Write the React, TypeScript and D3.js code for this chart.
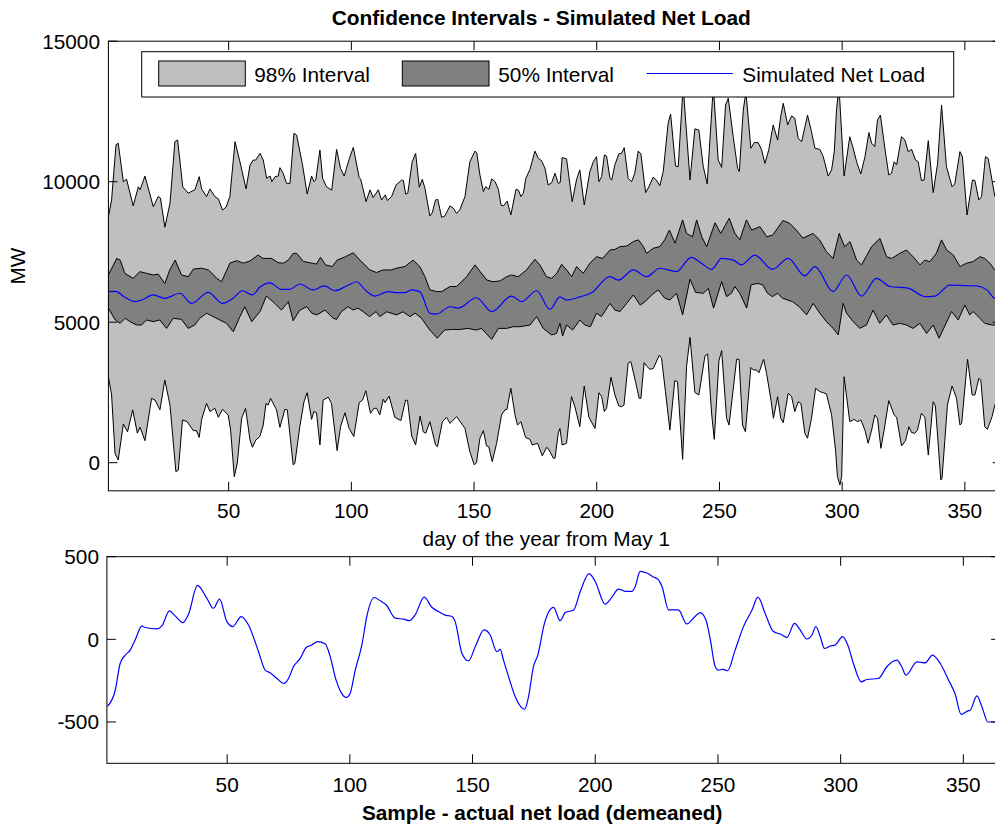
import React from "react";
import * as d3 from "d3";

type P = [number, number];

// ---- top panel series: [day, MW] ----
const upper98: P[] = [
  [1, 8755], [2.3, 9350], [4.1, 11310], [5, 11370], [7.1, 10000], [8.4, 10090], [11.1, 9140], [13.2, 9820], [13.9, 9710],
  [15.9, 10200], [19.3, 9110], [21.3, 9470], [22.2, 9420], [24, 8380], [26.1, 9230], [28.1, 11425], [29.2, 11485],
  [31.3, 9820], [33.5, 9590], [36.3, 9720], [38, 10180], [39, 9740], [41, 9470], [42.4, 9740], [44.4, 9470], [45.8, 9390],
  [47.5, 8990], [49, 9100], [50.5, 9470], [52.6, 11425], [54.6, 10710], [57.1, 9740], [58.7, 10590], [60, 10770],
  [61, 10770], [62.8, 11010], [64.1, 10770], [65.5, 10120], [66.9, 10200], [67.6, 10000], [68.9, 10180], [70.2, 10200],
  [70.9, 10500], [72.2, 10300], [73.6, 9940], [75, 9940], [76.6, 11720], [77.7, 11660], [80.1, 10600], [82, 9560],
  [83.8, 10200], [84.8, 10000], [85.5, 10060], [87.2, 11130], [88.3, 10120], [89.9, 9820], [92, 9700], [94, 11150],
  [95.6, 10470], [97.1, 10200], [99.2, 10830], [100.8, 11220], [103.2, 10150], [103.8, 10090], [106, 9290], [107.6, 9710],
  [108.9, 9435], [111, 9710], [112.3, 9350], [113.8, 9530], [114.7, 9330], [116.4, 9470], [118.2, 9880], [120.5, 10060],
  [121.2, 10040], [122.1, 9560], [123, 9590], [124.8, 10710], [126.2, 11010], [127.7, 9800], [128.9, 10085], [130, 9765],
  [132, 8780], [133, 8900], [134.3, 9350], [135.2, 9370], [136.8, 8730], [138.1, 8780], [140.2, 9140], [141.5, 9060],
  [142.9, 8875], [144.2, 9000], [146.3, 9470], [148.3, 10710], [150.4, 11090], [151.1, 11030], [152.4, 10240], [153.8, 9650],
  [154.7, 9820], [156.1, 9730], [157.2, 10100], [158.6, 10000], [159.9, 9730], [161, 9170], [162, 9140], [163.5, 9310],
  [165, 8815], [167.1, 9730], [168.1, 9700], [169.1, 9470], [170.1, 9590], [171.1, 10120], [172.8, 10440], [174.8, 11090],
  [176.2, 10830], [177.5, 10750], [178.9, 10480], [180.2, 9880], [181.6, 9960], [183, 10300], [184.3, 9940], [185.1, 9970],
  [185.9, 10860], [187.7, 10810], [190, 9290], [191.8, 10085], [193.1, 10420], [194.9, 9170], [197.2, 10360], [198.6, 10710],
  [199.9, 10890], [200.9, 10000], [202, 10180], [203.1, 10950], [204, 10910], [205.4, 10120], [206.1, 10060], [207.4, 10600],
  [209, 10990], [210.1, 11010], [211.2, 11210], [212.8, 10120], [214.2, 10000], [215.5, 10300], [216.9, 11090], [218, 10990],
  [219.9, 9610], [221.3, 9830], [223, 10160], [224.3, 10060], [225.7, 9860], [227.1, 10360], [229.1, 12080], [230.1, 12410],
  [232.1, 10560], [233.2, 10535], [235.2, 13400], [238, 10060], [240, 11880], [241.6, 11840], [243.4, 10540], [245, 9920],
  [247.5, 13400], [249.5, 10770], [250.9, 10510], [252.5, 12730], [253.6, 12970], [255.6, 11600], [257.4, 10480],
  [258.1, 10360], [259.7, 12550], [260.8, 13200], [262.8, 11190], [264.2, 11390], [265.8, 11390], [267.2, 11130],
  [268.5, 10650], [270.1, 11130], [271.9, 12020], [273.7, 11480], [275, 12340], [276, 12790], [277.8, 12020], [279.4, 12340],
  [280.7, 12260], [282.1, 11540], [283.5, 11425], [285.9, 12370], [287.5, 11780], [288.9, 11190], [290.9, 11150],
  [292.3, 10890], [294.3, 10200], [295.7, 10420], [296.8, 11070], [297.7, 12550], [298.7, 13400], [300.8, 10200],
  [303.1, 11600], [304.5, 11190], [305.9, 10710], [307.6, 10275], [309.3, 10890], [310.9, 11750], [312, 11370],
  [313.3, 11250], [314.4, 12200], [315.6, 12370], [317.4, 11190], [319, 10240], [320.1, 10300], [321.2, 10710],
  [322.2, 10600], [324.2, 11600], [325.6, 11480], [326.9, 11070], [328.3, 11150], [329.9, 10770], [331, 10710],
  [332.3, 10040], [333.4, 10060], [335.1, 11460], [337.1, 9610], [338.9, 10650], [340.5, 12730], [342.5, 10540],
  [344.8, 9820], [345.9, 9920], [348, 11070], [349, 10890], [350.9, 8815], [353.1, 10060], [354.1, 10040], [355.7, 9350],
  [356.8, 9470], [358.4, 10890], [359.5, 10830], [362.2, 9490], [365, 9100],
];

const lower98: P[] = [
  [1, 3060], [2.3, 2410], [3.7, 330], [5, 100], [7.1, 1380], [8.8, 1100], [10.9, 1880], [12.8, 1050], [13.9, 1260],
  [15.9, 785], [18.6, 2290], [20, 2230], [22, 1880], [24, 2940], [26.1, 2050], [28.5, -320], [29.5, -260], [31.2, 1520],
  [33.1, 1460], [35.6, 1140], [36.9, 1140], [38, 900], [39, 1540], [41, 2110], [42.4, 1820], [44.4, 1935], [45.8, 1615],
  [47.5, 1900], [49.8, 1700], [50.8, 1160], [52.3, -500], [53.5, -20], [55.3, 1580], [56.9, 1935], [58.7, 810], [59.7, 550],
  [61.1, 810], [62.7, 930], [64.1, 1340], [65.2, 2110], [66.1, 2050], [67.1, 2290], [69.5, 1880], [70.9, 1260], [72.9, 1900],
  [73.9, 1880], [76.3, -80], [77, -20], [79, 1280], [80.7, 2170], [82, 2490], [83.8, 1540], [84.7, 1820], [85.8, 1780],
  [87.2, 630], [88.5, 2230], [90.6, 2330], [91.9, 2110], [94.2, 430], [95.6, 1280], [97.4, 1780], [99.1, 1220], [101, 930],
  [103.2, 2140], [104.6, 2230], [105.9, 2560], [107.8, 1760], [109.2, 1935], [110.3, 1935], [111.6, 1700], [113, 2260],
  [113.7, 2140], [115.4, 2370], [117.7, 1615], [120.2, 1500], [122.1, 2230], [122.9, 2210], [124.6, 950], [126.2, 630],
  [128, 1660], [129.3, 1100], [130.3, 1050], [132, 1460], [134.3, 630], [135.1, 570], [137.1, 1460], [138.8, 1615],
  [140.2, 1400], [142.9, 1640], [146.3, 1220], [148.3, 390], [150.1, -80], [151, 0], [152.4, 870], [153.8, 1140],
  [155.1, 595], [156, 570], [157.4, 40], [159.2, 690], [161.2, 1700], [162.6, 1880], [163.4, 1900], [165, 2650],
  [166.7, 1700], [167.7, 1340], [169.1, 1460], [171, 900], [172.8, 830], [173.7, 630], [175.9, 690], [177.8, 240],
  [179.6, 550], [180.6, 450], [182.3, 160], [183, 160], [184.3, 1050], [185, 1220], [185.9, 630], [187.7, 690],
  [189.7, 2350], [191.1, 1990], [193.1, 1280], [194.9, 2730], [196.8, 1615], [199.3, 1220], [200.9, 2490], [202, 2350],
  [203.1, 1820], [204, 1935], [205.8, 3040], [207.4, 2410], [209, 2020], [210.1, 1990], [211.1, 2050], [212.8, 3540],
  [213.9, 3600], [215.8, 2880], [217.3, 2290], [218, 2290], [219.3, 3560], [220.3, 3440], [221.7, 3320], [223.1, 3360],
  [225.5, 3830], [226.4, 3715], [228, 2530], [229.8, 1160], [231.8, 2920], [232.9, 2880], [235, 120], [236.6, 3420],
  [238, 4460], [240, 2500], [241.6, 2410], [244.1, 3800], [245.2, 3870], [246.8, 1760], [247.9, 830], [249.8, 3630],
  [250.9, 3990], [252.9, 1580], [253.9, 1340], [255.6, 2610], [257, 3680], [258, 3680], [259.4, 1340], [260.6, 1100],
  [262.8, 3390], [263.8, 3300], [265.1, 3300], [266.1, 3200], [268, 3680], [269.2, 3180], [271, 2230], [272, 1580],
  [273.7, 2350], [275, 1580], [276, 1425], [278, 2470], [279.4, 2350], [280.7, 1820], [282.1, 2170], [283.2, 2110],
  [284.8, 1050], [285.9, 870], [287.5, 1580], [289.2, 2650], [290.9, 2530], [292.3, 2490], [293.6, 2445], [295.7, 1700],
  [297.3, 450], [298.1, -500], [299.1, -790], [299.8, -500], [300.8, 3060], [303.1, 1460], [304.9, 1540], [306.3, 1460],
  [307.6, 1520], [309.3, 1160], [310.6, 690], [312, 1160], [313.3, 1700], [314.4, 1580], [315.8, 510], [317.1, 1160],
  [319, 2210], [321.2, 1700], [322.2, 1615], [324.2, 595], [325.8, 780], [327.2, 1280], [328.3, 1070], [329.6, 1046],
  [330.7, 1160], [332.3, 1760], [333.7, 1615], [335.1, 270], [337.1, 2170], [338, 2020], [340.2, -615], [340.7, -560],
  [342.9, 2050], [344.8, 2730], [346.6, 2290], [348, 1340], [348.7, 1400], [351.1, 3680], [353, 2410], [354.1, 2410],
  [355.7, 3000], [356.5, 2940], [358.1, 1280], [359.2, 1190], [361.1, 1640], [362.2, 2050], [365, 2500],
];

const upper50: P[] = [
  [1, 6680], [4.4, 7270], [5.8, 7210], [7.7, 6740], [11.1, 6560], [13.8, 6800], [16.5, 6740], [19.3, 6680], [21.3, 6710],
  [24, 6380], [26, 6860], [28.2, 7210], [30.8, 6680], [33.6, 6620], [35.6, 6890], [39, 6920], [41.8, 6860], [45.2, 6560],
  [47.1, 6440], [50.5, 7100], [53.3, 7190], [56, 7100], [58.7, 7180], [62, 7390], [64, 7270], [67.5, 7270], [70.2, 7120],
  [72.3, 7100], [74.3, 7210], [76.3, 7450], [77.7, 7450], [80.5, 7160], [84, 7100], [85.8, 7070], [87.4, 7310], [89.5, 7040],
  [92.2, 6980], [94.2, 7210], [97.6, 7330], [100.8, 7470], [103.5, 7210], [107.5, 6860], [110.2, 6770], [113, 6860],
  [116.3, 6860], [118.3, 6920], [121.8, 6980], [125.2, 7210], [127.9, 6980], [130, 6620], [132, 6150], [134.8, 6090],
  [136.8, 6090], [140.2, 6270], [142.9, 6270], [147, 6620], [150.4, 7040], [152.5, 6800], [155.2, 6500], [157.8, 6440],
  [160.6, 6470], [163.3, 6620], [165.3, 6680], [168, 6620], [171.4, 6860], [174.8, 7240], [176.8, 7040], [179.5, 6620],
  [181.6, 6560], [183.7, 6740], [185.7, 7060], [187.7, 6860], [189.8, 6620], [191.8, 6980], [194.5, 6740], [197.2, 7100],
  [200, 7330], [202.4, 7270], [205.4, 7570], [207.4, 7590], [209.5, 7690], [212.2, 7710], [214.9, 7870], [217, 7930],
  [219, 7690], [220.3, 7450], [223, 7630], [225.7, 7690], [227.7, 7930], [229.6, 8280], [231.9, 7810], [235, 8640],
  [236.6, 8160], [239, 8040], [240.7, 8640], [242.8, 8040], [244.8, 7690], [248.2, 8540], [250.5, 8160], [254, 8700],
  [256.3, 8160], [258.3, 7930], [261, 8640], [263.1, 8280], [266.5, 8400], [269.3, 8040], [271.7, 8100], [275.9, 8620],
  [278.6, 8520], [281.3, 8280], [284, 7990], [288.1, 8160], [290.8, 7930], [293.6, 7510], [296.3, 7270], [298.8, 8160],
  [301, 7690], [303.2, 7870], [305.9, 7210], [307.9, 7040], [312, 7690], [315.4, 7980], [318.1, 7330], [320.2, 7270],
  [323.5, 7450], [326.2, 7570], [328.9, 7330], [331.7, 7040], [333.7, 7210], [335.7, 7150], [338.4, 7450], [340.5, 7930],
  [342.6, 7570], [345.3, 7390], [348, 6980], [350.7, 7100], [353.4, 7160], [356.1, 7330], [358.1, 7270], [360.2, 7100],
  [362.2, 6860], [365, 6700],
];

const lower50: P[] = [
  [1, 5500], [3.8, 5080], [5.8, 4960], [7.8, 5140], [9.8, 5020], [12.5, 4900], [14.5, 4900], [16.5, 5080], [19.2, 5020],
  [21.9, 5080], [24.7, 4780], [27.4, 5140], [30.8, 5100], [33.5, 4780], [36.2, 4900], [38.2, 5140], [41, 5320], [43.7, 5200],
  [46.4, 5080], [49.1, 4960], [51.9, 4660], [54.6, 5200], [56.6, 5550], [59.4, 5020], [62.8, 5380], [65.4, 5930],
  [68.8, 5670], [71.5, 5430], [74.3, 5730], [76.3, 5050], [79, 5430], [81.8, 5550], [83.9, 5320], [85.9, 5260], [89.3, 5430],
  [92.6, 5140], [94, 5100], [96, 5380], [98.7, 5550], [100.7, 5430], [102.7, 5500], [104.7, 5380], [107.4, 5200],
  [110.1, 5380], [111.6, 5200], [114.4, 5370], [118.5, 5260], [121, 5370], [123.9, 5200], [126, 5320], [128.6, 5140],
  [132, 4720], [135, 4430], [138, 4720], [140.8, 4740], [144.2, 4740], [147.5, 4780], [150.9, 4720], [153, 4780],
  [157.2, 4390], [159.9, 4780], [163.3, 4780], [166, 4840], [168.7, 4840], [172.8, 4900], [175.5, 5200], [178.2, 4780],
  [181.6, 4545], [183.6, 4600], [185, 4960], [186.1, 4510], [187.7, 4900], [190.2, 4720], [193.1, 5080], [195.1, 4900],
  [197.4, 4840], [199.9, 5320], [201.9, 5200], [205.4, 5670], [207.4, 5430], [209.5, 5380], [212.2, 5670], [214.9, 5970],
  [217.7, 5610], [219.7, 5730], [222.4, 5970], [225, 6150], [227.8, 5850], [229.8, 5790], [232.5, 6030], [235, 5260],
  [238, 6530], [240.3, 6060], [243.4, 6030], [245.5, 6200], [247.6, 5500], [250.9, 6440], [252.9, 5910], [254.9, 6030],
  [256.3, 6270], [258.3, 6030], [261.1, 5500], [262.9, 6330], [265.6, 6380], [267.6, 6330], [269.6, 6030], [271.6, 5910],
  [273.7, 6030], [275.7, 5850], [279.8, 5730], [282.5, 5550], [285.5, 5260], [288.2, 5670], [290.9, 5320], [293.6, 5020],
  [296.3, 4780], [298.4, 4545], [300.4, 5670], [301.8, 5320], [304.5, 5020], [307.2, 4780], [309.9, 4900], [312.6, 5430],
  [315.3, 4960], [318, 5260], [320.7, 4900], [323.5, 4960], [326.2, 4900], [328.9, 4780], [331.7, 4960], [334.4, 4600],
  [337.1, 4900], [339.5, 4430], [344.6, 5380], [347.3, 5080], [350, 5610], [352, 5260], [353.4, 5380], [356.1, 5140],
  [358.1, 4960], [360.9, 4900], [362.2, 4900], [365, 4900],
];

const simulated: P[] = [
  [1, 6090], [4, 6100], [7.5, 5900], [11.8, 5730], [14.5, 5790], [19.3, 5970], [24, 5850], [30.1, 6030], [34.9, 5670],
  [41.7, 6060], [47.5, 5670], [51.8, 5850], [55.6, 6120], [59.6, 5970], [62.8, 6250], [66.8, 6400], [71.5, 6170],
  [74.9, 6170], [79, 6360], [84.4, 6150], [88.9, 6290], [93.3, 6120], [98.1, 6290], [102.2, 6440], [105.6, 6150],
  [109.6, 5930], [115, 6090], [118.5, 6050], [121.8, 6050], [124.5, 6150], [127.9, 6090], [132, 5320], [134.7, 5290],
  [140.2, 5550], [143.5, 5500], [151, 5870], [157.2, 5380], [165.3, 5930], [169.4, 5730], [175.5, 6120], [180.9, 5460],
  [185, 5900], [187.7, 5790], [193.1, 5900], [197.9, 6050], [205.4, 6620], [208.8, 6500], [214.9, 6860], [220.3, 6620],
  [225.7, 6920], [232.5, 6800], [238.5, 7310], [242.8, 7090], [246.8, 6880], [250.9, 7270], [255.7, 7210], [259, 7040],
  [264.4, 7390], [271.6, 6880], [278, 7270], [284.8, 6650], [288.9, 6980], [296.3, 6090], [301.8, 6680], [307.9, 5930],
  [314, 6560], [319.5, 6270], [326.9, 6210], [333.7, 5910], [337.8, 5930], [343.9, 6320], [350.7, 6300], [354.8, 6290],
  [358.9, 6150], [362.2, 5850], [365, 5800],
];

// ---- bottom panel: sample - actual net load (demeaned) ----
const demeaned: P[] = [
  [1.25, -405], [4.4, -308], [6.4, -146], [8.5, -95], [10.5, -65], [12.5, -4], [15.3, 81], [16.3, 73], [21.4, 63],
  [23.4, 81], [26.5, 172], [28.8, 142], [32, 101], [34.3, 154], [37.9, 326], [41.7, 249], [44.4, 188], [46.9, 243],
  [49.9, 107], [52.3, 77], [55.7, 138], [58.7, 87], [62.8, -75], [65.5, -186], [67.5, -202], [70.3, -237], [73.2, -267],
  [75, -237], [77, -166], [79.8, -115], [82.2, -49], [84.5, -34], [86.8, -14], [90, -28], [92, -105], [94.4, -247],
  [96.3, -318], [98.5, -352], [100.1, -328], [102.2, -186], [104.9, -34], [106.9, 138], [109.9, 253], [112.4, 233],
  [114.8, 209], [118.5, 128], [121.9, 122], [124.3, 113], [126.6, 148], [130.3, 255], [133.4, 194], [136.1, 168],
  [138.6, 148], [141.6, 138], [142.9, 107], [145.7, -85], [148.4, -130], [151.1, -45], [154.7, 57], [157.2, 26],
  [159.9, -75], [161.3, -61], [162.6, -126], [164.7, -227], [167.4, -348], [171.2, -423], [172.8, -348], [174.8, -166],
  [176.6, -95], [179.3, 97], [183, 194], [185.7, 113], [187.8, 162], [191.2, 178], [193.9, 290], [197.5, 397], [200, 350],
  [204, 213], [206.5, 249], [209.5, 304], [212.5, 290], [214.9, 290], [216.3, 320], [218.3, 411], [221, 401], [223.7, 377],
  [225.5, 364], [227.2, 320], [229.9, 178], [233.9, 178], [237.3, 93], [240, 128], [242.8, 162], [245.1, 117], [246.8, 6],
  [248.9, -166], [250.2, -186], [252, -182], [253.9, -190], [257, -65], [260.4, 77], [263.8, 174], [266.3, 255],
  [269.3, 154], [272.6, 47], [275.4, 32], [278.1, 12], [281.2, 97], [283.5, 57], [286.2, 2], [288.3, 26], [289.9, 77],
  [291.7, 16], [293.4, -55], [295.7, -41], [297.8, -34], [300.8, 16], [302.9, -34], [305.2, -146], [308.4, -257],
  [310.7, -243], [315.4, -237], [318.8, -166], [322.9, -126], [324.9, -166], [326.6, -217], [331.1, -136], [334.5, -142],
  [337.4, -95], [340.6, -146], [344, -247], [346.7, -332], [349.1, -454], [351.9, -433], [352.8, -429], [355.5, -342],
  [357.6, -409], [360, -500], [365, -500],
];

const xTicks = [50, 100, 150, 200, 250, 300, 350];
const yTicksTop = [0, 5000, 10000, 15000];
const yTicksBottom = [-500, 0, 500];
const legendLabels = ["98% Interval", "50% Interval", "Simulated Net Load"];

const FONT = "'Liberation Sans', Arial, Helvetica, sans-serif";
const FS = 20.8;

export default function App() {
  const W = 995, H = 826;
  const xTop = d3.scaleLinear().domain([1, 365]).range([108.4, 108.4 + 364 * 2.454]);
  const yTop = d3.scaleLinear().domain([-1000, 15000]).range([490.8, 41.2]);
  const xBot = d3.scaleLinear().domain([1, 365]).range([106.9, 106.9 + 364 * 2.454]);
  const yBot = d3.scaleLinear().domain([-750, 500]).range([763.3, 556.7]);

  const lineTop = d3.line<P>().x((d) => xTop(d[0])).y((d) => yTop(d[1]));
  const smoothTop = d3.line<P>().x((d) => xTop(d[0])).y((d) => yTop(d[1])).curve(d3.curveMonotoneX);
  const lineBot = d3.line<P>().x((d) => xBot(d[0])).y((d) => yBot(d[1])).curve(d3.curveMonotoneX);

  const band98 = (lineTop(upper98.concat(lower98.slice().reverse())) || "") + "Z";
  const band50 = (lineTop(upper50.concat(lower50.slice().reverse())) || "") + "Z";

  const tl = 9;
  const topL = xTop.range()[0], topR = xTop.range()[1];
  const topT = yTop.range()[1], topB = yTop.range()[0];
  const botL = xBot.range()[0], botR = xBot.range()[1];
  const botT = yBot.range()[1], botB = yBot.range()[0];

  return (
    <svg width={W} height={H} style={{ position: "absolute", left: 0, top: 0, display: "block", background: "#fff" }}
      fontFamily={FONT}>
      <defs>
        <clipPath id="clipTop"><rect x={topL} y={topT} width={topR - topL} height={topB - topT} /></clipPath>
        <clipPath id="clipBot"><rect x={botL} y={botT} width={botR - botL} height={botB - botT} /></clipPath>
      </defs>
      <rect x={0} y={0} width={W} height={H} fill="#fff" />

      {/* title */}
      <text x={541.3} y={25} textAnchor="middle" fontSize={20.9} fontWeight="bold">Confidence Intervals - Simulated Net Load</text>

      {/* top panel */}
      <g clipPath="url(#clipTop)">
        <path d={band98} fill="#bfbfbf" stroke="#000" strokeWidth={1} strokeLinejoin="round" />
        <path d={band50} fill="#808080" stroke="#000" strokeWidth={1} strokeLinejoin="round" />
        <path d={smoothTop(simulated) || ""} fill="none" stroke="#0000ff" strokeWidth={1.2} />
      </g>
      <rect x={topL} y={topT} width={topR - topL} height={topB - topT} fill="none" stroke="#000" strokeWidth={1} />
      {xTicks.map((t) => (
        <g key={"xt" + t}>
          <line x1={xTop(t)} x2={xTop(t)} y1={topB} y2={topB - tl} stroke="#000" />
          <line x1={xTop(t)} x2={xTop(t)} y1={topT} y2={topT + tl} stroke="#000" />
          <text x={xTop(t)} y={518.3} textAnchor="middle" fontSize={FS}>{t}</text>
        </g>
      ))}
      {yTicksTop.map((t) => (
        <g key={"yt" + t}>
          <line x1={topL} x2={topL + tl} y1={yTop(t)} y2={yTop(t)} stroke="#000" />
          <line x1={topR} x2={topR - tl} y1={yTop(t)} y2={yTop(t)} stroke="#000" />
          <text x={100} y={yTop(t) + 7.5} textAnchor="end" fontSize={FS}>{t}</text>
        </g>
      ))}
      <text transform={`translate(25,266) rotate(-90)`} textAnchor="middle" fontSize={FS}>MW</text>
      <text x={546.3} y={545.7} textAnchor="middle" fontSize={FS}>day of the year from May 1</text>

      {/* legend */}
      <g>
        <rect x={141.7} y={51.7} width={812} height={45.3} fill="#fff" stroke="#000" strokeWidth={1} />
        <rect x={158.7} y={61} width={86.6} height={25} fill="#bfbfbf" stroke="#000" strokeWidth={1} />
        <text x={254.3} y={81.7} fontSize={FS}>{legendLabels[0]}</text>
        <rect x={402.3} y={61} width={86.7} height={25} fill="#808080" stroke="#000" strokeWidth={1} />
        <text x={498.3} y={81.7} fontSize={FS}>{legendLabels[1]}</text>
        <line x1={646.7} x2={732.7} y1={73.5} y2={73.5} stroke="#0000ff" strokeWidth={1} />
        <text x={742.3} y={81.7} fontSize={FS}>{legendLabels[2]}</text>
      </g>

      {/* bottom panel */}
      <g clipPath="url(#clipBot)">
        <path d={lineBot(demeaned) || ""} fill="none" stroke="#0000ff" strokeWidth={1.2} />
      </g>
      <rect x={botL} y={botT} width={botR - botL} height={botB - botT} fill="none" stroke="#000" strokeWidth={1} />
      {xTicks.map((t) => (
        <g key={"bxt" + t}>
          <line x1={xBot(t)} x2={xBot(t)} y1={botB} y2={botB - tl} stroke="#000" />
          <line x1={xBot(t)} x2={xBot(t)} y1={botT} y2={botT + tl} stroke="#000" />
          <text x={xBot(t)} y={791.7} textAnchor="middle" fontSize={FS}>{t}</text>
        </g>
      ))}
      {yTicksBottom.map((t) => (
        <g key={"byt" + t}>
          <line x1={botL} x2={botL + tl} y1={yBot(t)} y2={yBot(t)} stroke="#000" />
          <line x1={botR} x2={botR - tl} y1={yBot(t)} y2={yBot(t)} stroke="#000" />
          <text x={99} y={yBot(t) + 7.5} textAnchor="end" fontSize={FS}>{t}</text>
        </g>
      ))}
      <text x={542.2} y={819.5} textAnchor="middle" fontSize={FS} fontWeight="bold">Sample - actual net load (demeaned)</text>
    </svg>
  );
}
